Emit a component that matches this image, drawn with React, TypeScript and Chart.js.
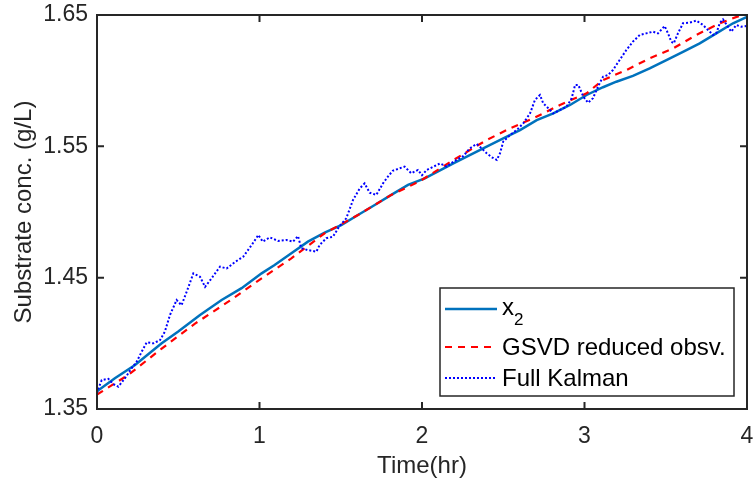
import React, { useEffect, useRef } from "react";
import { Chart, registerables } from "chart.js";

Chart.register(...registerables);

// ---- Data ----
const xTickValues = [0, 1, 2, 3, 4];
const yTickValues = [1.35, 1.45, 1.55, 1.65];

const xAxisTitle = "Time(hr)";
const yAxisTitle = "Substrate conc. (g/L)";

const seriesLabels = ["x_2", "GSVD reduced obsv.", "Full Kalman"];

const x2Time = [0, 0.11, 0.234, 0.398, 0.5, 0.634, 0.767, 0.89, 1.013, 1.093, 1.196, 1.298, 1.401, 1.503, 1.606, 1.709, 1.811, 1.914, 2.017, 2.193, 2.398, 2.5, 2.603, 2.706, 2.808, 2.911, 3.013, 3.114, 3.196, 3.298, 3.401, 3.504, 3.606, 3.709, 3.811, 3.914, 4.0];
const x2Conc = [1.3635, 1.3734, 1.3835, 1.4, 1.409, 1.4216, 1.433, 1.442, 1.4533, 1.4596, 1.4686, 1.4774, 1.4843, 1.49, 1.4977, 1.5053, 1.513, 1.5206, 1.5256, 1.537, 1.5497, 1.556, 1.5624, 1.57, 1.5751, 1.5815, 1.5891, 1.595, 1.5992, 1.6036, 1.6094, 1.6157, 1.622, 1.6284, 1.636, 1.6437, 1.6485];

const gsvdTime = [0, 0.193, 0.398, 0.603, 0.808, 1.013, 1.196, 1.401, 1.606, 1.811, 1.988, 2.193, 2.398, 2.542, 2.685, 2.849, 3.013, 3.114, 3.258, 3.401, 3.545, 3.688, 3.832, 4.0];
const gsvdConc = [1.361, 1.376, 1.396, 1.415, 1.4317, 1.4495, 1.4647, 1.4838, 1.4977, 1.513, 1.5235, 1.5396, 1.5548, 1.5637, 1.5713, 1.5815, 1.5904, 1.6005, 1.6081, 1.617, 1.6246, 1.6348, 1.6437, 1.6515];

const kalmanTime = [0, 0.01, 0.029, 0.07, 0.1, 0.131, 0.172, 0.213, 0.244, 0.275, 0.306, 0.347, 0.388, 0.418, 0.449, 0.49, 0.52, 0.552, 0.593, 0.634, 0.665, 0.705, 0.757, 0.798, 0.85, 0.9, 0.952, 0.993, 1.02, 1.063, 1.114, 1.165, 1.206, 1.237, 1.257, 1.298, 1.35, 1.37, 1.411, 1.452, 1.49, 1.534, 1.575, 1.617, 1.647, 1.678, 1.719, 1.76, 1.79, 1.82, 1.863, 1.893, 1.934, 1.975, 2.0, 2.029, 2.07, 2.111, 2.152, 2.193, 2.254, 2.295, 2.336, 2.367, 2.398, 2.429, 2.46, 2.48, 2.5, 2.542, 2.583, 2.623, 2.665, 2.695, 2.726, 2.746, 2.777, 2.808, 2.849, 2.89, 2.921, 2.942, 2.962, 2.993, 3.022, 3.052, 3.083, 3.114, 3.145, 3.175, 3.216, 3.258, 3.298, 3.34, 3.38, 3.422, 3.452, 3.493, 3.514, 3.534, 3.549, 3.575, 3.606, 3.647, 3.688, 3.729, 3.76, 3.791, 3.811, 3.832, 3.852, 3.883, 3.903, 3.934, 3.965, 4.0];
const kalmanConc = [1.362, 1.366, 1.372, 1.373, 1.369, 1.367, 1.3734, 1.381, 1.386, 1.3936, 1.4008, 1.4, 1.4025, 1.409, 1.4216, 1.433, 1.429, 1.4393, 1.4533, 1.4507, 1.443, 1.4495, 1.4584, 1.457, 1.462, 1.466, 1.4749, 1.4825, 1.4774, 1.4807, 1.478, 1.4787, 1.4774, 1.4817, 1.4724, 1.471, 1.4698, 1.4749, 1.48, 1.4812, 1.4888, 1.4952, 1.509, 1.518, 1.5218, 1.5147, 1.513, 1.5218, 1.5269, 1.5314, 1.5333, 1.5345, 1.5295, 1.532, 1.528, 1.532, 1.5345, 1.537, 1.5345, 1.5383, 1.5426, 1.5485, 1.5518, 1.5485, 1.5447, 1.5417, 1.5396, 1.5447, 1.5536, 1.5586, 1.5624, 1.5675, 1.5751, 1.5853, 1.5891, 1.5828, 1.579, 1.5751, 1.5777, 1.5802, 1.5866, 1.5967, 1.5967, 1.5878, 1.5832, 1.5866, 1.5954, 1.603, 1.6043, 1.6081, 1.6157, 1.6234, 1.6297, 1.6348, 1.636, 1.6373, 1.636, 1.6416, 1.636, 1.6297, 1.6284, 1.636, 1.6437, 1.6442, 1.6457, 1.6424, 1.6386, 1.6348, 1.636, 1.6437, 1.6467, 1.6411, 1.6373, 1.6424, 1.6411, 1.6416];

const FONT = '"Liberation Sans", Arial, Helvetica, sans-serif';
const AXIS_COLOR = "#262626";

const toPoints = (xs: number[], ys: number[]) => xs.map((x, i) => ({ x, y: ys[i] }));

const boxPlugin = {
  id: "matlabBox",
  afterDatasetsDraw(chart: any) {
    const { ctx, chartArea: a, scales } = chart;
    ctx.save();
    ctx.setLineDash([]);
    ctx.strokeStyle = AXIS_COLOR;
    ctx.lineWidth = 2;
    ctx.strokeRect(a.left, a.top, a.right - a.left, a.bottom - a.top);
    const L = 7;
    ctx.beginPath();
    scales.x.ticks.forEach((t: any) => {
      const px = scales.x.getPixelForValue(t.value);
      ctx.moveTo(px, a.bottom);
      ctx.lineTo(px, a.bottom - L);
      ctx.moveTo(px, a.top);
      ctx.lineTo(px, a.top + L);
    });
    scales.y.ticks.forEach((t: any) => {
      const py = scales.y.getPixelForValue(t.value);
      ctx.moveTo(a.left, py);
      ctx.lineTo(a.left + L, py);
      ctx.moveTo(a.right, py);
      ctx.lineTo(a.right - L, py);
    });
    ctx.stroke();
    ctx.restore();
  },
};

const legendPlugin = {
  id: "matlabLegend",
  afterDraw(chart: any) {
    const { ctx, chartArea: a } = chart;
    const w = 294;
    const h = 108;
    const x0 = a.right - 13 - w;
    const y0 = a.bottom - 13 - h;
    ctx.save();
    ctx.fillStyle = "#ffffff";
    ctx.fillRect(x0, y0, w, h);
    ctx.setLineDash([]);
    ctx.strokeStyle = AXIS_COLOR;
    ctx.lineWidth = 1.5;
    ctx.strokeRect(x0, y0, w, h);
    const lineRows = [21, 59, 90];
    chart.data.datasets.forEach((ds: any, i: number) => {
      const y = y0 + lineRows[i];
      ctx.beginPath();
      ctx.setLineDash(ds.borderDash || []);
      ctx.strokeStyle = ds.borderColor;
      ctx.lineWidth = ds.borderWidth;
      ctx.moveTo(x0 + 5, y);
      ctx.lineTo(x0 + 57, y);
      ctx.stroke();
      ctx.setLineDash([]);
      ctx.fillStyle = "#000000";
      const label: string = ds.label;
      const tx = x0 + 62;
      if (label.includes("_")) {
        const [base, sub] = label.split("_");
        ctx.font = `24px ${FONT}`;
        ctx.textAlign = "left";
        ctx.textBaseline = "alphabetic";
        ctx.fillText(base, tx, y0 + 27);
        const bw = ctx.measureText(base).width;
        ctx.font = `17px ${FONT}`;
        ctx.fillText(sub, tx + bw, y0 + 37);
      } else {
        ctx.font = `24px ${FONT}`;
        ctx.textAlign = "left";
        ctx.textBaseline = "middle";
        ctx.fillText(label, tx, y + 1);
      }
    });
    ctx.restore();
  },
};

export default function App() {
  const ref = useRef<HTMLCanvasElement>(null);

  useEffect(() => {
    document.body.style.margin = "0";
    const canvas = ref.current;
    if (!canvas) return;
    const chart = new Chart(canvas, {
      type: "line",
      data: {
        datasets: [
          {
            label: seriesLabels[0],
            data: toPoints(x2Time, x2Conc),
            borderColor: "#0072BD",
            borderWidth: 2.5,
            pointRadius: 0,
            tension: 0,
            fill: false,
            order: 3,
          },
          {
            label: seriesLabels[1],
            data: toPoints(gsvdTime, gsvdConc),
            borderColor: "#FF0000",
            borderWidth: 2.2,
            borderDash: [7, 6],
            pointRadius: 0,
            tension: 0,
            fill: false,
            order: 2,
          },
          {
            label: seriesLabels[2],
            data: toPoints(kalmanTime, kalmanConc),
            borderColor: "#0000FF",
            borderWidth: 2,
            borderDash: [2, 2],
            pointRadius: 0,
            tension: 0,
            fill: false,
            order: 1,
          },
        ],
      },
      options: {
        responsive: false,
        animation: false,
        devicePixelRatio: 1,
        layout: { padding: { top: 15, right: 6, left: 0, bottom: 0 } },
        plugins: {
          legend: { display: false },
          tooltip: { enabled: false },
        },
        scales: {
          x: {
            type: "linear",
            min: 0,
            max: 4,
            grid: { display: false, drawTicks: false },
            border: { display: false },
            afterBuildTicks: (scale: any) => {
              scale.ticks = xTickValues.map((v) => ({ value: v }));
            },
            afterFit: (scale: any) => {
              scale.height = 74;
              scale.paddingLeft = 0;
              scale.paddingRight = 0;
            },
            ticks: {
              padding: 14,
              color: AXIS_COLOR,
              font: { family: FONT, size: 23 },
              maxRotation: 0,
              callback: (v: any) => String(v),
            },
            title: {
              display: true,
              text: xAxisTitle,
              color: AXIS_COLOR,
              font: { family: FONT, size: 24 },
              padding: { top: 0, bottom: 2 },
            },
          },
          y: {
            type: "linear",
            min: 1.35,
            max: 1.65,
            grid: { display: false, drawTicks: false },
            border: { display: false },
            afterBuildTicks: (scale: any) => {
              scale.ticks = yTickValues.map((v) => ({ value: v }));
            },
            afterFit: (scale: any) => {
              scale.width = 97;
              scale.paddingTop = 0;
              scale.paddingBottom = 0;
            },
            ticks: {
              padding: 9,
              color: AXIS_COLOR,
              font: { family: FONT, size: 23 },
              callback: (v: any) => Number(v).toFixed(2),
            },
            title: {
              display: true,
              text: yAxisTitle,
              color: AXIS_COLOR,
              font: { family: FONT, size: 24 },
              padding: { top: 10, bottom: 0 },
            },
          },
        },
      },
      plugins: [boxPlugin, legendPlugin],
    } as any);
    return () => chart.destroy();
  }, []);

  return (
    <div style={{ width: 753, height: 483 }}>
      <canvas ref={ref} width={753} height={483} style={{ display: "block", width: 753, height: 483 }} />
    </div>
  );
}
